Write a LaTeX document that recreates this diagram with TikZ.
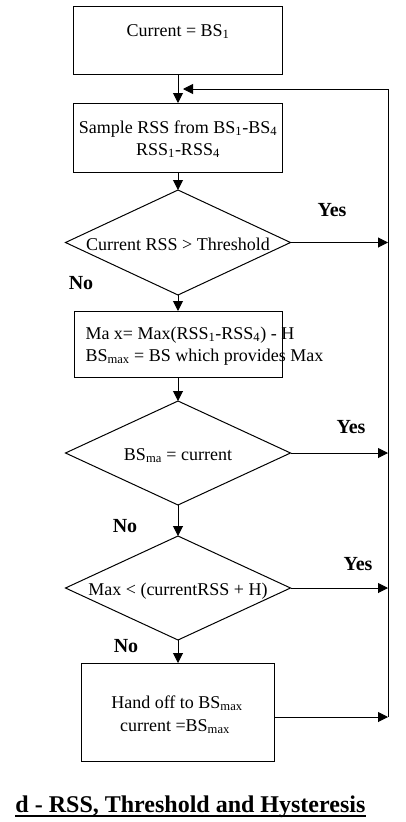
\documentclass[tikz,border=0pt]{standalone}
\usepackage{fontspec}
\setmainfont{Liberation Serif}
\usetikzlibrary{shapes.geometric,arrows.meta}
\begin{document}
\begin{tikzpicture}[x=1pt,y=-1pt,
  line width=1pt,
  flow/.style={draw, line width=1pt, -{Triangle[length=10pt,width=10pt]}},
  procbox/.style={draw, rectangle, inner sep=0pt, outer sep=0pt, line width=1pt},
  decision/.style={draw, diamond, inner sep=0pt, outer sep=0pt,
    minimum width=225pt, minimum height=105pt, line width=1pt},
  body/.style={font=\fontsize{18}{22}\selectfont, inner sep=0pt, anchor=base},
  bodyleft/.style={body, anchor=base west},
  answer/.style={font=\fontsize{20}{24}\selectfont\bfseries, inner sep=0pt, anchor=base},
]
\useasboundingbox (0,0) rectangle (405,822);

% process boxes and decisions
\node[procbox, minimum width=209pt, minimum height=68pt] (start)  at (178,40) {};
\node[procbox, minimum width=209pt, minimum height=69pt] (sample) at (178,137.5) {};
\node[decision] (dia1) at (178,242.5) {};
\node[procbox, minimum width=208pt, minimum height=66pt] (maxbox) at (178,344) {};
\node[decision, minimum height=104pt] (dia2) at (178,453) {};
\node[decision, minimum height=104pt] (dia3) at (178,588) {};
\node[procbox, minimum width=193pt, minimum height=98pt] (handoff) at (178,712) {};

% texts
\node[body] (startTxt) at (178,36) {Current = BS\textsubscript{1}};
\node[body] (sampleTxtA) at (178,133) {Sample RSS from BS\textsubscript{1}-BS\textsubscript{4}};
\node[body] (sampleTxtB) at (178,155) {RSS\textsubscript{1}-RSS\textsubscript{4}};
\node[body] (dia1Txt) at (178,250) {Current RSS > Threshold};
\node[bodyleft] (maxTxtA) at (85,339) {Ma x= Max(RSS\textsubscript{1}-RSS\textsubscript{4}) - H};
\node[bodyleft] (maxTxtB) at (85,361) {BS\textsubscript{max} = BS which provides Max};
\node[body] (dia2Txt) at (178,460) {BS\textsubscript{ma} = current};
\node[body] (dia3Txt) at (178,595) {Max < (currentRSS + H)};
\node[body] (handTxtA) at (177,708) {Hand off to BS\textsubscript{max}};
\node[body] (handTxtB) at (175,731) {current =BS\textsubscript{max}};

% branch labels
\node[answer] (yes1) at (332,216) {Yes};
\node[answer] (yes2) at (351,433) {Yes};
\node[answer] (yes3) at (358,570) {Yes};
\node[answer] (no1) at (81,289) {No};
\node[answer] (no2) at (125,532) {No};
\node[answer] (no3) at (126,652) {No};

% return rail on the right
\coordinate (railTop) at (388,89);
\coordinate (railBot) at (388,717);
\coordinate (loopEnd) at (183,89);
\coordinate (r1) at (388,242.5);
\coordinate (r2) at (388,453);
\coordinate (r3) at (388,588);

% main flow
\draw[flow] (start.south) -- (sample.north);
\draw[flow] (sample.south) -- (dia1.north);
\draw[flow] (dia1.south) -- (maxbox.north);
\draw[flow] (maxbox.south) -- (dia2.north);
\draw[flow] (dia2.south) -- (dia3.north);
\draw[flow] (dia3.south) -- (handoff.north);

% yes branches and loop back
\draw[flow] (dia1.east) -- (r1);
\draw[flow] (dia2.east) -- (r2);
\draw[flow] (dia3.east) -- (r3);
\draw[flow] (handoff.east |- railBot) -- (railBot);
\draw (railBot) -- (railTop);
\draw[flow] (railTop) -- (loopEnd);

% caption
\node[font=\fontsize{24}{28}\selectfont\bfseries, anchor=base west, inner sep=0pt]
  (title) at (15,812) {d - RSS, Threshold and Hysteresis};
\draw[line width=2pt] ([yshift=-4pt]title.base west) -- ([yshift=-4pt]title.base east);
\end{tikzpicture}
\end{document}
